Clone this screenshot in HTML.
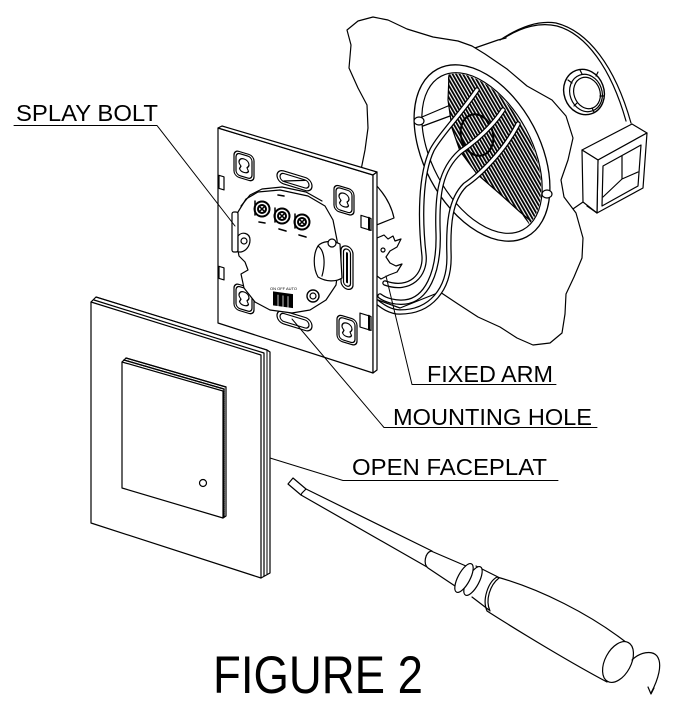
<!DOCTYPE html>
<html><head><meta charset="utf-8">
<style>
html,body{margin:0;padding:0;background:#fff;}
svg{display:block}
</style></head>
<body>
<svg width="687" height="701" viewBox="0 0 687 701" xmlns="http://www.w3.org/2000/svg">
<defs>
 <pattern id="h" width="3" height="3" patternUnits="userSpaceOnUse" patternTransform="rotate(-30)">
  <rect width="1.8" height="3" fill="#000"/>
 </pattern>
 <clipPath id="ci"><ellipse cx="482" cy="153" rx="86" ry="49" transform="rotate(62 482 153)"/></clipPath>
 <g id="kp">
  <rect x="-10" y="-13" width="20" height="26" rx="5" fill="#fff"/>
  <rect x="-8" y="-11" width="16" height="22" rx="4"/>
  <path d="M0,-7 c-3,0 -5,2 -5,4.5 c0,1.5 1,2.5 2,3.5 l-1.5,3 c0.5,1.5 2,2.5 4.5,2.5 c2.5,0 4,-1 4.5,-2.5 l-1.5,-3 c1,-1 2,-2 2,-3.5 c0,-2.5 -2,-4.5 -5,-4.5 z"/>
 </g>
</defs>
<g fill="none" stroke="#000" stroke-width="1.2" stroke-linejoin="round" stroke-linecap="round">

<!-- backbox exterior -->
<path d="M472,49 L498,40 L506,38"/>
<path d="M500,40 C518,28 538,20 556,23 C588,31 615,66 631,123"/>
<path d="M506,37 C522,27 540,22 557,26 C586,34 611,68 626,121"/>
<ellipse cx="584" cy="92" rx="20" ry="23" transform="rotate(-20 584 92)" stroke-width="1.4"/>
<ellipse cx="586" cy="93" rx="16" ry="19" transform="rotate(-20 586 93)"/>
<ellipse cx="587" cy="93" rx="13" ry="16" transform="rotate(-20 587 93)"/>
<path d="M568,80 L572,83 M580,70 L582,74 M598,72 L596,76 M604,96 L600,96 M594,112 L592,108 M574,106 L577,103"/>
<!-- knockout cube -->
<path fill="#fff" d="M582,150 L632,124 L647,133 L598,160 Z"/>
<path fill="#fff" d="M598,160 L647,133 L643,188 L597,213 Z"/>
<path fill="#fff" d="M582,150 L598,160 L597,213 L583,202 Z"/>
<path d="M603,166 L641,145 L638,186 L602,206 Z"/>
<path d="M622,156 L622,179 L603,197 M622,179 L638,172"/>
<path d="M570,211 L583,202 M587,206 L597,213"/>

<!-- wall cut-out -->
<path fill="#fff" d="M360,175 L365,150 L368,128 L367,105 L358,88 L349,68 L351,45 L347,30 L358,21 L373,17 L388,20 L407,29 L433,37 L458,41 L472,46 L485,54 L507,69 L527,86 L552,100 L566,116 L573,138 L568,160 L561,180 L564,197 L576,213 L583,238 L582,258 L574,277 L566,294 L565,314 L562,333 L550,343 L533,345 L517,338 L500,327 L478,317 L458,304 L440,292 L420,300 L400,308 L378,300 L360,300 Z"/>

<!-- box flange / rim -->
<ellipse cx="482" cy="153" rx="95" ry="58" transform="rotate(62 482 153)" fill="#fff" stroke-width="1.3"/>
<ellipse cx="482" cy="153" rx="87" ry="50" transform="rotate(62 482 153)"/>
<path clip-path="url(#ci)" fill="url(#h)" stroke="none" d="M448,60 L470,55 L600,100 L600,260 L537,235 L520,212 L500,194 L477,174 L460,151 L452,128 L448,100 Z"/>
<path clip-path="url(#ci)" d="M449,75 L448,100 L452,128 L460,151 L477,174 L500,194 L520,212 L537,226"/>
<ellipse cx="477" cy="135" rx="16" ry="21" transform="rotate(-15 477 135)" stroke-width="2"/>
<path d="M422,117 L448,106 M423,126 L450,116"/>
<ellipse cx="419" cy="121" rx="5" ry="4" fill="#fff"/>
<ellipse cx="547" cy="194" rx="5" ry="4" fill="#fff"/>

<!-- wires -->
<g stroke-width="5.5">
 <path d="M477,90 C460,115 440,135 432,150 C420,175 420,220 424,255 C426,275 410,292 385,283"/>
 <path d="M503,110 C490,130 470,145 460,152 C440,170 437,195 438,230 C440,275 425,300 405,302 C395,303 385,300 380,296"/>
 <path d="M518,124 C505,150 480,175 465,185 C450,200 448,225 449,255 C450,290 430,312 400,312 C390,312 382,306 377,302"/>
</g>
<g stroke="#fff" stroke-width="3">
 <path d="M477,90 C460,115 440,135 432,150 C420,175 420,220 424,255 C426,275 410,292 385,283"/>
 <path d="M503,110 C490,130 470,145 460,152 C440,170 437,195 438,230 C440,275 425,300 405,302 C395,303 385,300 380,296"/>
 <path d="M518,124 C505,150 480,175 465,185 C450,200 448,225 449,255 C450,290 430,312 400,312 C390,312 382,306 377,302"/>
</g>

<!-- mechanism behind plate / fixed arm claws -->
<path fill="#fff" d="M374,183 C384,193 391,204 394,218 L374,226 Z"/>
<path fill="#fff" d="M377,238 L384,235 L388,239 L393,236 L395,241 L401,239 L397,247 L390,251 L386,257 L390,263 L396,266 L402,264 L397,272 L389,275 L381,279 L377,276 Z"/>
<circle cx="383" cy="250" r="2"/>
<rect x="366" y="268" width="9" height="12" fill="#fff"/>

<!-- mounting plate -->
<path fill="#fff" d="M218,128 L373,175 L373,373 L218,323 Z"/>
<path fill="#fff" d="M218,128 L222,126 L377,172 L373,175 Z"/>
<path fill="#fff" d="M373,175 L377,172 L377,370 L373,373 Z"/>
<g transform="matrix(1,0.303,0,1,0,0)">
 <use href="#kp" x="244" y="92"/>
 <use href="#kp" x="344" y="96"/>
 <use href="#kp" x="244" y="225"/>
 <use href="#kp" x="347" y="225"/>
 <rect x="277" y="85" width="35" height="13" rx="6.5" fill="#fff"/>
 <rect x="280" y="87.5" width="29" height="8" rx="4"/>
 <line x1="284" y1="95" x2="305" y2="88"/>
 <rect x="277" y="225" width="35" height="13" rx="6.5" fill="#fff"/>
 <rect x="280" y="227.5" width="29" height="8" rx="4"/>
 <rect x="341" y="141" width="12" height="43" rx="6" fill="#fff"/>
 <rect x="343.5" y="144" width="7" height="37" rx="3.5"/>
 <line x1="347" y1="148" x2="347" y2="177" stroke-width="2"/>
 <rect x="219" y="109" width="5" height="13" fill="#fff"/>
 <rect x="219" y="200" width="5" height="12" fill="#fff"/>
 <rect x="361" y="106" width="10" height="12" fill="#fff"/>
 <line x1="369" y1="106" x2="369" y2="118" stroke-width="2"/>
 <rect x="360" y="204" width="11" height="14" fill="#fff"/>
 <line x1="369" y1="204" x2="369" y2="218" stroke-width="2"/>
</g>

<!-- round body -->
<path fill="#fff" d="M238,212 L246,199 L258,192 L280,190 L308,196 L325,206 L333,220 L337,240 L339,262 L336,285 L326,300 L310,310 L292,313 L270,310 L255,302 L244,288 L241,274 L248,270 L245,262 L239,256 L236,240 L235,225 Z"/>
<path d="M241,206 L250,195 L262,189 L282,187 L306,192 L322,201"/>
<!-- terminal screws -->
<g stroke-width="2">
 <circle cx="262" cy="209" r="7.5"/><circle cx="262" cy="209" r="4"/>
 <path d="M255,201 L255,215 M259,206 L265,212 M265,206 L259,212" stroke-width="1.5"/>
 <circle cx="282" cy="216" r="7.5"/><circle cx="282" cy="216" r="4"/>
 <path d="M275,208 L275,222 M279,213 L285,219 M285,213 L279,219" stroke-width="1.5"/>
 <circle cx="302" cy="222" r="7.5"/><circle cx="302" cy="222" r="4"/>
 <path d="M295,214 L295,228 M299,219 L305,225 M305,219 L299,225" stroke-width="1.5"/>
</g>
<path d="M259,222 L265,223 M279,229 L286,231 M299,235 L306,237 M278,195 L284,196" stroke-width="1.6"/>
<!-- clamp -->
<path fill="#fff" d="M318,246 C322,241 332,240 340,244 L342,278 C336,282 326,282 318,277 C313,268 313,254 318,246 Z"/>
<path d="M318,246 C324,250 326,262 322,276"/>
<circle cx="332" cy="243" r="4" fill="#fff"/>
<!-- DIP + knob -->
<rect x="273" y="293" width="20" height="14" fill="#000" stroke="none" transform="skewY(8) translate(0,-40)"/>
<path d="M278,256 L278,268 M283,256 L283,268 M288,256 L288,268" stroke="#fff" stroke-width="0.8" transform="skewY(8)" />
<text x="270" y="290" font-family="Liberation Sans, sans-serif" font-size="4" fill="#000" stroke="none">ON OFF AUTO</text>
<circle cx="313" cy="296" r="6" fill="#fff" stroke-width="1.4"/>
<circle cx="313" cy="296" r="3"/>
<!-- splay bolt -->
<rect x="232" y="212" width="6" height="40" rx="2" fill="#fff"/>
<path fill="#fff" d="M238,236 C242,231 250,233 250,240 C250,246 246,251 241,252 L238,252 Z"/>
<circle cx="244" cy="241" r="3"/>

<!-- leaders -->
<path d="M14,125.5 L157,125.5 L235,226" stroke-width="1"/>
<path d="M556,384.5 L412,384.5 L386,276" stroke-width="1"/>
<path d="M597,427.5 L384,427.5 L292,319" stroke-width="1"/>
<path d="M558,480.5 L343,480.5 L270,458" stroke-width="1"/>

<!-- faceplate frame -->
<path fill="#fff" d="M91,302 L96,297 L267,350 L270,352 L270,573 L261,578 L91,523 Z"/>
<path d="M91,302 L261,355 L261,578"/>
<path d="M94,300 L264,353 L264,576"/>
<path d="M96,297 L267,350 L267,574" stroke-width="1"/>
<!-- rocker -->
<path fill="#fff" d="M122,362 L126,358 L226,387 L226,516 L223,518 L122,488 Z"/>
<path d="M122,362 L223,391 L223,518"/>
<path d="M124,360 L224,389 L224,517" stroke-dasharray="1 1" stroke-width="1.5"/>
<path d="M126,358 L226,387" stroke-width="1.3"/>
<circle cx="203" cy="483" r="3.5"/>

<!-- screwdriver -->
<path fill="#fff" d="M293,478 L306,489 L432,551 L427,567 L301,495 L288,484 Z"/>
<path d="M306,489 L302,493 L301,495"/>
<path fill="#fff" d="M431,551 L466,566 L458,588 L428,568 C423,564 425,553 431,551 Z"/>
<path fill="#fff" d="M497,577 C540,589 590,614 627,643 L607,682 C573,664 523,634 487,611 C482,600 488,582 497,577 Z"/>
<path d="M499,578 C490,585 485,600 490,611"/>
<path d="M476,566 L498,577 M472,597 L489,610"/>
<ellipse cx="473" cy="581" rx="6" ry="16" transform="rotate(28 473 581)" fill="#fff"/>
<ellipse cx="464" cy="578" rx="6" ry="16" transform="rotate(28 464 578)" fill="#fff"/>
<ellipse cx="618" cy="662" rx="13" ry="22" transform="rotate(28 618 662)" fill="#fff"/>
<path d="M632,660 C640,652 652,650 657,656 C663,664 658,680 651,693"/>
<path d="M648,687 L651,694 L654,688"/>
</g>

<!-- labels -->
<g font-family="Liberation Sans, sans-serif" font-size="23.5" fill="#000">
 <text x="16" y="121" textLength="142" lengthAdjust="spacingAndGlyphs">SPLAY BOLT</text>
 <text x="427" y="382" textLength="126" lengthAdjust="spacingAndGlyphs">FIXED ARM</text>
 <text x="393" y="425" textLength="199" lengthAdjust="spacingAndGlyphs">MOUNTING HOLE</text>
 <text x="352" y="475" textLength="195" lengthAdjust="spacingAndGlyphs">OPEN FACEPLAT</text>
 <text x="213" y="693" font-size="53" textLength="210" lengthAdjust="spacingAndGlyphs">FIGURE 2</text>
</g>
</svg>
</body></html>
